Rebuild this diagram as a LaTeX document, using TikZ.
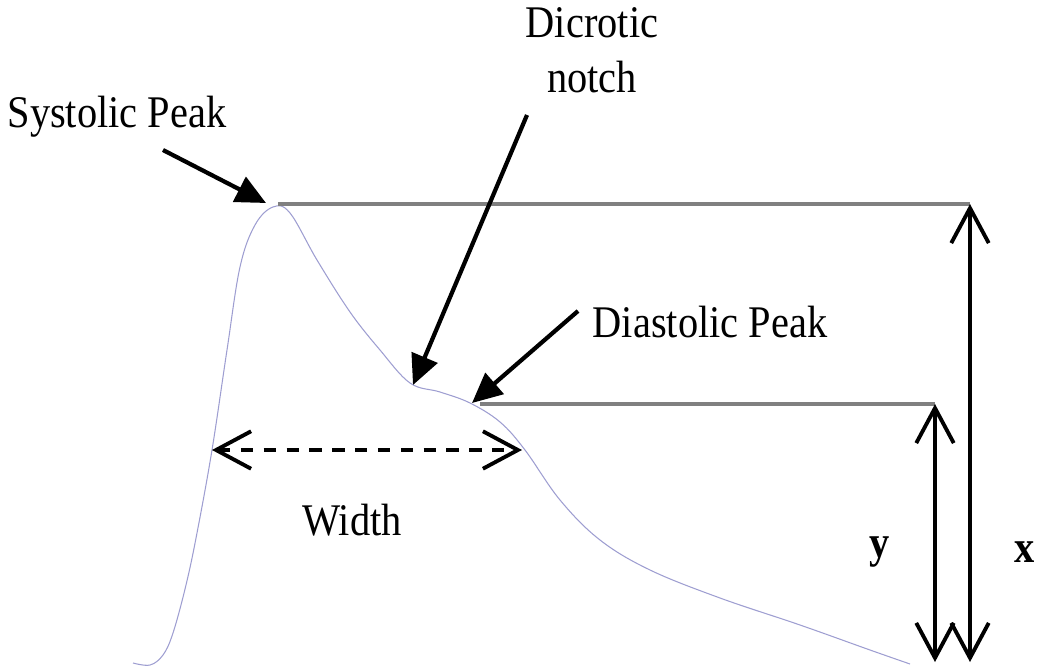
\documentclass[tikz,border=0pt]{standalone}
\usepackage{fontspec}
\setmainfont{Liberation Serif}
\usetikzlibrary{arrows.meta}
\definecolor{wave}{rgb}{0.62,0.62,0.82}
\definecolor{level}{rgb}{0.5,0.5,0.5}
\tikzset{
    lbl/.style = {font=\fontsize{23}{27}\selectfont, align=center, inner sep=0pt, yscale=1.12},
    pointer/.style = {line width=2.4pt, -{Triangle[length=0.6cm, width=0.55cm]}},
    span/.style = {line width=2.2pt, {Straight Barb[length=0.7cm, width=0.75cm]}-{Straight Barb[length=0.7cm, width=0.75cm]}},
    levelline/.style = {level, line width=2.2pt}
}

\begin{document}
\begin{tikzpicture}[x=0.02cm, y=-0.02cm, line join=round]
\useasboundingbox (0,0) rectangle (1042,666);

% pulse wave
\draw [wave, line width=0.6pt] plot [smooth, tension=0.6] coordinates {
(133,663) (150,665) (163,655) (173,633) (186,585) (197,533) (212,450)
(227,350) (240,267) (255,225) (273,207) (290,213) (317,260) (350,312)
(380,350) (410,383) (440,392) (470,403) (500,422) (525,450) (560,500)
(600,540) (650,570) (720,598) (800,625) (870,650) (910,664)};

% key points
\coordinate (sys) at (266,203);
\coordinate (notch) at (413,385);
\coordinate (dia) at (472,403);
\coordinate (topR) at (970,204);
\coordinate (midR) at (935,404);
\coordinate (xbot) at (970,662);
\coordinate (ybot) at (935,662);
\coordinate (wl) at (212,450);
\coordinate (wr) at (522,450);

% levels
\draw [levelline] (278,204) -- (topR);
\draw [levelline] (480,404) -- (midR);

% labels
\node [lbl] (syslbl) at (117,117) {Systolic Peak};
\node [lbl] (notchlbl) at (592,50) {Dicrotic\\[1pt]notch};
\node [lbl] (dialbl) at (710,322) {Diastolic Peak};
\node [lbl] (wlbl) at (352,520) {Width};
\node [lbl, font=\fontsize{23}{27}\selectfont\bfseries] (ylbl) at (880,552) {y};
\node [lbl, font=\fontsize{23}{27}\selectfont\bfseries] (xlbl) at (1025,552) {x};

% pointers
\coordinate (sysfrom) at (163,150);
\coordinate (notchfrom) at (527,115);
\coordinate (diafrom) at (578,311);
\draw [pointer] (sysfrom) -- (sys);
\draw [pointer] (notchfrom) -- (notch);
\draw [pointer] (diafrom) -- (dia);

% spans
\draw [span, dash pattern=on 7pt off 6pt] (wl) -- (wr);
\draw [span] (topR) -- (xbot);
\draw [span] (midR) -- (ybot);
\end{tikzpicture}
\end{document}
